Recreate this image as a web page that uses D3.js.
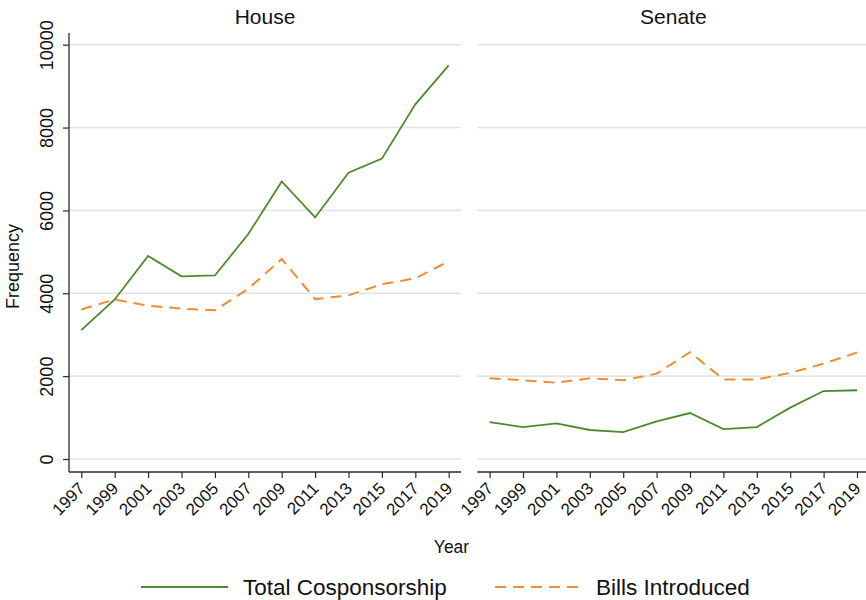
<!DOCTYPE html>
<html>
<head>
<meta charset="utf-8">
<script src="https://cdn.jsdelivr.net/npm/d3@7"></script>
<style>
  html, body { margin: 0; padding: 0; background: #fff; }
  svg { display: block; font-family: "Liberation Sans", Arial, Helvetica, sans-serif; }
</style>
</head>
<body>
<svg id="chart" width="866" height="600"></svg>
<script>
// Congress sessions (first year of each session)
const years = [1997, 1999, 2001, 2003, 2005, 2007, 2009, 2011, 2013, 2015, 2017, 2019];

// House
const houseCosponsorship = [3110, 3850, 4900, 4410, 4430, 5430, 6700, 5830, 6910, 7250, 8560, 9500];
const houseBills         = [3610, 3850, 3700, 3630, 3590, 4110, 4830, 3860, 3950, 4220, 4360, 4770];

// Senate
const senateCosponsorship = [890, 770, 860, 700, 650, 910, 1110, 720, 770, 1240, 1640, 1660];
const senateBills         = [1950, 1900, 1840, 1950, 1900, 2060, 2580, 1920, 1920, 2080, 2300, 2570];

const yTicks = [0, 2000, 4000, 6000, 8000, 10000];
const panelTitles = ["House", "Senate"];
const seriesNames = ["Total Cosponsorship", "Bills Introduced"];

const panels = [
  { title: panelTitles[0], cos: houseCosponsorship, bills: houseBills, left: 69 },
  { title: panelTitles[1], cos: senateCosponsorship, bills: senateBills, left: 477.3 }
];

const GREEN = "#4c8a2e";
const ORANGE = "#ef8d33";
const GRID = "#e3e3e3";
const AXIS = "#2a2a2a";

const panelW = 392;
const plotTop = 33, plotBottom = 472;

const svg = d3.select("#chart");

const x = d3.scaleLinear().domain([1997, 2019]).range([12.3, panelW - 12.3]);
const y = d3.scaleLinear().domain([0, 10000]).range([459, 44.7]);

const lineGen = d3.line()
  .x((d, i) => x(years[i]))
  .y(d => y(d));

panels.forEach((p, pi) => {
  const g = svg.append("g").attr("transform", `translate(${p.left},0)`);

  // horizontal grid
  g.append("g").selectAll("line").data(yTicks).join("line")
    .attr("x1", 0).attr("x2", panelW)
    .attr("y1", d => y(d)).attr("y2", d => y(d))
    .attr("stroke", GRID).attr("stroke-width", 1.6);

  // panel title
  g.append("text")
    .attr("x", panelW / 2).attr("y", 24)
    .attr("text-anchor", "middle")
    .attr("font-size", 21)
    .attr("fill", "#111")
    .text(p.title);

  // x axis
  const xAxis = g.append("g")
    .attr("transform", `translate(0,${plotBottom})`)
    .call(d3.axisBottom(x).tickValues(years).tickFormat(d3.format("d")).tickSize(6).tickSizeOuter(0));
  xAxis.select(".domain").remove();
  xAxis.selectAll(".tick line").attr("stroke", AXIS).attr("stroke-width", 1.2);
  xAxis.selectAll(".tick text")
    .attr("font-size", 17)
    .attr("fill", "#111")
    .attr("text-anchor", "end")
    .attr("x", 0).attr("y", 0).attr("dy", "0.72em").attr("dx", 0)
    .attr("transform", "translate(-4.5,9) rotate(-45)");
  g.append("line")
    .attr("x1", 0).attr("x2", panelW)
    .attr("y1", plotBottom).attr("y2", plotBottom)
    .attr("stroke", AXIS).attr("stroke-width", 1.3);

  // y axis only on the first panel
  if (pi === 0) {
    const yAxis = g.append("g")
      .call(d3.axisLeft(y).tickValues(yTicks).tickFormat(d3.format("d")).tickSize(6).tickSizeOuter(0));
    yAxis.select(".domain").remove();
    yAxis.selectAll(".tick line").attr("stroke", AXIS).attr("stroke-width", 1.2);
    yAxis.selectAll(".tick text")
      .attr("font-size", 18)
      .attr("fill", "#111")
      .attr("text-anchor", "middle")
      .attr("x", 0).attr("y", 0).attr("dy", 0)
      .attr("transform", "translate(-16,0) rotate(-90)");
    g.append("line")
      .attr("x1", 0).attr("x2", 0)
      .attr("y1", plotTop).attr("y2", plotBottom)
      .attr("stroke", AXIS).attr("stroke-width", 1.3);
  }

  // series
  g.append("path").datum(p.bills)
    .attr("d", lineGen)
    .attr("fill", "none")
    .attr("stroke", ORANGE).attr("stroke-width", 2)
    .attr("stroke-dasharray", "11,7");
  g.append("path").datum(p.cos)
    .attr("d", lineGen)
    .attr("fill", "none")
    .attr("stroke", GREEN).attr("stroke-width", 1.8);
});

// axis titles
svg.append("text")
  .attr("transform", "translate(19,266.5) rotate(-90)")
  .attr("text-anchor", "middle")
  .attr("font-size", 18)
  .attr("fill", "#111")
  .text("Frequency");

svg.append("text")
  .attr("x", 451.5).attr("y", 553)
  .attr("text-anchor", "middle")
  .attr("font-size", 17.5)
  .attr("fill", "#111")
  .text("Year");

// legend
const legend = svg.append("g");
const legendItems = [
  { name: seriesNames[0], color: GREEN, dash: null, x1: 141, x2: 228, tx: 243 },
  { name: seriesNames[1], color: ORANGE, dash: "11,7", x1: 495, x2: 582, tx: 596 }
];
legendItems.forEach(it => {
  legend.append("line")
    .attr("x1", it.x1).attr("x2", it.x2)
    .attr("y1", 587).attr("y2", 587)
    .attr("stroke", it.color).attr("stroke-width", 2)
    .attr("stroke-dasharray", it.dash);
  legend.append("text")
    .attr("x", it.tx).attr("y", 594.5)
    .attr("font-size", 22.5)
    .attr("fill", "#111")
    .text(it.name);
});
</script>
</body>
</html>
